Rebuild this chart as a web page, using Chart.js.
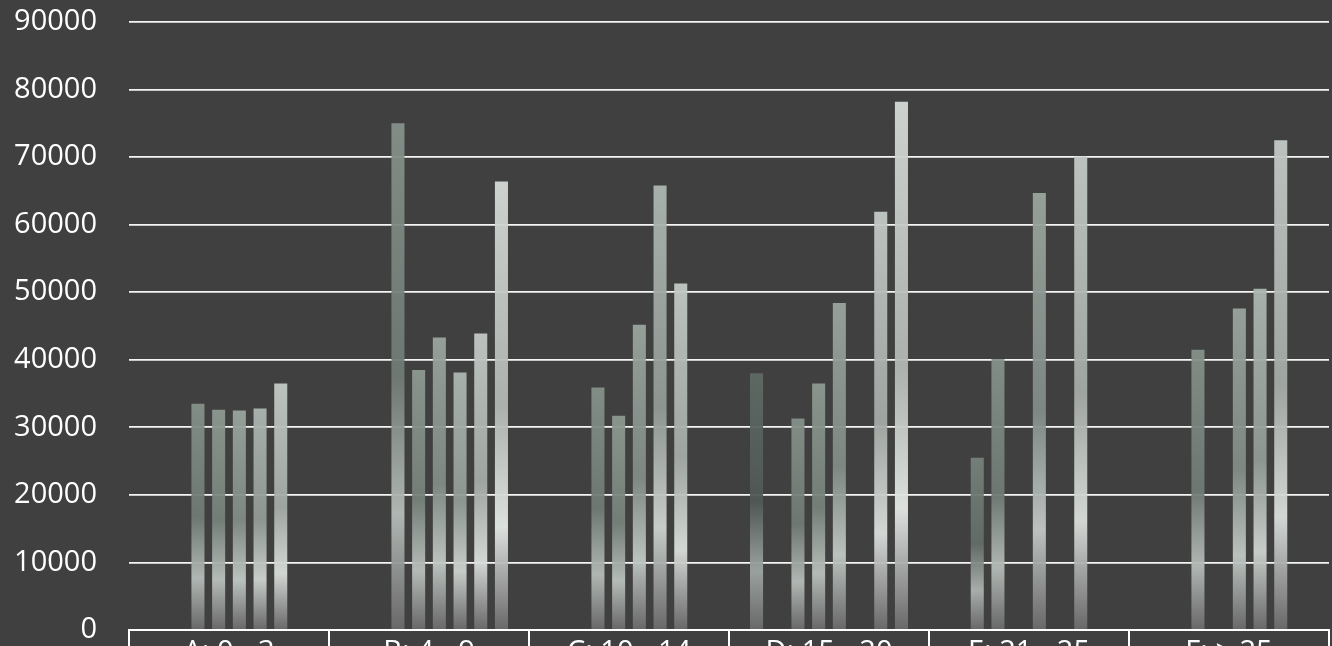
<!DOCTYPE html>
<html>
<head>
<meta charset="utf-8">
<script src="https://cdn.jsdelivr.net/npm/chart.js@4/dist/chart.umd.min.js"></script>
<style>
  html, body { margin: 0; padding: 0; background: #404040; overflow: hidden; }
  #wrap { width: 1332px; height: 646px; position: relative; }
</style>
</head>
<body>
<div id="wrap"><canvas id="chart"></canvas></div>
<script>
// Data
const categories = ['A: 0 - 3', 'B: 4 - 9', 'C: 10 - 14', 'D: 15 - 20', 'E: 21 - 25', 'F: > 25'];
const yTicks = [0, 10000, 20000, 30000, 40000, 50000, 60000, 70000, 80000, 90000];

const series1 = [null, null, null, 38000, null, null];
const series2 = [null, null, null, null, 25500, null];
const series3 = [33500, 75000, 35900, 31300, 40100, 41500];
const series4 = [32600, 38500, 31700, 36500, null, null];
const series5 = [32500, 43300, 45200, 48400, 64700, 47600];
const series6 = [32800, 38100, 65800, null, null, 50500];
const series7 = [36500, 43900, 51300, 61900, 70100, 72500];
const series8 = [null, 66400, null, 78200, null, null];

const allSeries = [series1, series2, series3, series4, series5, series6, series7, series8];

// top colour of each series (dark grey-green to pale)
const baseColors = ['#5f6a65', '#76827b', '#85918a', '#8d9991', '#9aa59e', '#adb7b1', '#c3cac5', '#d4dad6'];

function hexToRgb(hex) {
    const n = parseInt(hex.slice(1), 16);
    return [(n >> 16) & 255, (n >> 8) & 255, n & 255];
}
function shade(hex, f, a) {
    const c = hexToRgb(hex).map(v => Math.round(f >= 0 ? v + (255 - v) * f : v * (1 + f)));
    return `rgba(${c[0]}, ${c[1]}, ${c[2]}, ${a})`;
}

function barGradient(ctx, base) {
    const chart = ctx.chart;
    if (!chart.chartArea || ctx.raw == null) return base;
    const y = chart.scales.y;
    const top = y.getPixelForValue(ctx.raw);
    const bottom = y.getPixelForValue(0);
    const g = chart.ctx.createLinearGradient(0, top, 0, bottom);
    g.addColorStop(0, shade(base, 0, 0.95));
    g.addColorStop(0.5, shade(base, -0.16, 0.95));
    g.addColorStop(0.77, shade(base, 0.4, 0.95));
    g.addColorStop(1, 'rgba(106, 106, 106, 0.95)');
    return g;
}

// table under the plot with the category names
const categoryTable = {
    id: 'categoryTable',
    afterDraw(chart) {
        const c = chart.ctx;
        const x = chart.scales.x;
        const area = chart.chartArea;
        c.save();
        c.fillStyle = '#ffffff';
        c.font = '29px "Open Sans"';
        c.textAlign = 'center';
        c.textBaseline = 'alphabetic';
        categories.forEach((label, i) => {
            c.fillText(label, x.getPixelForValue(i), area.bottom + 31);
        });
        c.restore();
    }
};

const datasets = allSeries.map((data, i) => ({
    label: 'Series ' + (i + 1),
    data: data,
    backgroundColor: ctx => barGradient(ctx, baseColors[i]),
    borderWidth: 0,
    categoryPercentage: 0.828,
    barPercentage: 0.63
}));

new Chart(document.getElementById('chart'), {
    type: 'bar',
    data: { labels: categories, datasets: datasets },
    plugins: [categoryTable],
    options: {
        responsive: true,
        maintainAspectRatio: false,
        animation: false,
        layout: { padding: { top: 22, right: 3, bottom: 0, left: 0 } },
        plugins: {
            legend: { display: false },
            tooltip: { enabled: false }
        },
        scales: {
            x: {
                afterFit: scale => {
                    scale.height = 16;
                    scale.paddingLeft = 0;
                    scale.paddingRight = 0;
                },
                ticks: { display: false },
                grid: {
                    offset: true,
                    drawOnChartArea: false,
                    drawTicks: true,
                    tickLength: 17,
                    color: '#ffffff',
                    lineWidth: 2
                },
                border: { display: true, color: '#ffffff', width: 2 }
            },
            y: {
                min: 0,
                max: 90000,
                afterFit: scale => {
                    scale.width = 129;
                    scale.paddingTop = 0;
                    scale.paddingBottom = 0;
                },
                afterBuildTicks: scale => { scale.ticks = yTicks.map(v => ({ value: v })); },
                ticks: {
                    color: '#ffffff',
                    padding: 32,
                    font: { family: 'Open Sans', size: 29 },
                    callback: value => String(value)
                },
                grid: { color: '#f4f4f4', lineWidth: 1.8, drawTicks: false },
                border: { display: false }
            }
        }
    }
});
</script>
</body>
</html>
